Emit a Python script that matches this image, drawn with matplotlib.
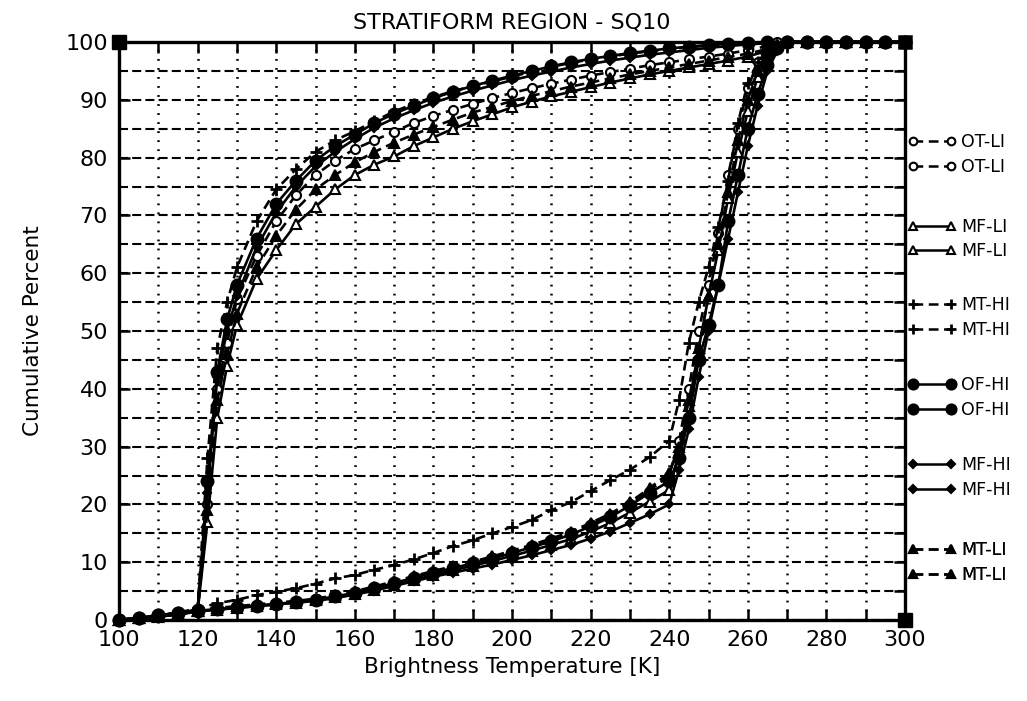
import matplotlib
matplotlib.use("Agg")
import matplotlib.pyplot as plt
from matplotlib.lines import Line2D
from matplotlib.ticker import MultipleLocator

plt.rcParams['font.family'] = ['DejaVu Sans']
plt.rcParams['lines.scale_dashes'] = False

# ---------------- data ----------------
# Temperature grid for the cold-rising curve group (A)
T_A = [100, 105, 110, 115, 120, 122.5, 125, 127.5, 130,
       135, 140, 145, 150, 155, 160, 165, 170, 175, 180,
       185, 190, 195, 200, 205, 210, 215, 220, 225, 230,
       235, 240, 245, 250, 255, 260, 265, 270,
       275, 280, 285, 290, 295, 300]

A_MT_HI = [0, 0.3, 0.6, 1.0, 2, 28, 47, 55, 61,
           69, 74.5, 78, 81, 83, 84.6, 86.3, 88, 89.3, 90.5,
           91.5, 92.4, 93.2, 94, 94.9, 95.7, 96.4, 97, 97.5, 98,
           98.4, 98.8, 99.1, 99.4, 99.6, 99.8, 99.9, 100,
           100, 100, 100, 100, 100, 100]
A_OF_HI = [0, 0.4, 0.8, 1.2, 1.8, 24, 43, 52, 58,
           66, 72, 76, 79.5, 82, 84, 86, 87.6, 89, 90.3,
           91.4, 92.4, 93.3, 94.2, 95, 95.8, 96.5, 97.1, 97.6, 98.1,
           98.5, 98.9, 99.2, 99.5, 99.7, 99.9, 100, 100,
           100, 100, 100, 100, 100, 100]
A_MF_HI = [0, 0.3, 0.7, 1.1, 1.8, 22, 42, 50, 56,
           64.5, 70.5, 75, 78.5, 81, 83.2, 85.2, 86.8, 88.2, 89.5,
           90.6, 91.6, 92.5, 93.4, 94.2, 94.9, 95.6, 96.2, 96.8, 97.3,
           97.8, 98.2, 98.6, 99, 99.3, 99.6, 99.8, 100,
           100, 100, 100, 100, 100, 100]
A_OT_LI = [0, 0.3, 0.6, 1.0, 1.6, 20, 40, 48, 55.5,
           63, 69, 73.5, 77, 79.5, 81.5, 83, 84.5, 86, 87.2,
           88.3, 89.3, 90.3, 91.2, 92, 92.8, 93.5, 94.2, 94.8, 95.4,
           96, 96.5, 97, 97.5, 98, 98.6, 99.3, 100,
           100, 100, 100, 100, 100, 100]
A_MT_LI = [0, 0.3, 0.6, 1.0, 1.5, 19, 38, 46, 53,
           61, 66.5, 71, 74.5, 77, 79.2, 81, 82.6, 84, 85.3,
           86.6, 87.8, 88.8, 89.8, 90.7, 91.5, 92.3, 93, 93.7, 94.4,
           95, 95.6, 96.2, 96.8, 97.4, 98, 98.8, 100,
           100, 100, 100, 100, 100, 100]
A_MF_LI = [0, 0.3, 0.6, 0.9, 1.5, 17, 35, 44, 51,
           59, 64, 68.5, 71.5, 74.5, 77, 78.8, 80.2, 82, 83.5,
           85, 86.3, 87.5, 88.7, 89.7, 90.6, 91.4, 92.2, 93, 93.7,
           94.4, 95, 95.6, 96.2, 96.8, 97.5, 98.5, 100,
           100, 100, 100, 100, 100, 100]

# Temperature grid for the warm-rising curve group (B)
T_B = [100, 105, 110, 115, 120, 125, 130, 135, 140, 145,
       150, 155, 160, 165, 170, 175, 180, 185, 190, 195,
       200, 205, 210, 215, 220, 225, 230, 235, 240,
       242.5, 245, 247.5, 250, 252.5, 255, 257.5, 260, 262.5, 265, 267.5, 270,
       275, 280, 285, 290, 295, 300]

B_MT_HI = [0, 0.4, 0.8, 1.3, 2, 2.9, 3.5, 4.3, 4.9, 5.5,
           6.3, 7.2, 7.8, 8.7, 9.5, 10.5, 11.6, 12.8, 13.8, 15,
           16.1, 17.3, 19, 20.4, 22.3, 24.2, 26, 28.2, 31,
           38, 48, 55, 61, 68, 76, 86, 93, 96.5, 98.5, 99.5, 100,
           100, 100, 100, 100, 100, 100]
B_OF_HI = [0, 0.4, 0.8, 1.2, 1.6, 1.9, 2.2, 2.5, 2.8, 3.1,
           3.5, 4.1, 4.7, 5.5, 6.4, 7.3, 8.2, 9.0, 9.8, 10.6,
           11.6, 12.6, 13.6, 14.8, 16.2, 17.8, 19.8, 22, 24,
           28, 35, 45, 51, 58, 69, 77, 85, 91, 96, 99, 100,
           100, 100, 100, 100, 100, 100]
B_MF_HI = [0, 0.3, 0.7, 1.1, 1.5, 1.8, 2.1, 2.4, 2.7, 3.0,
           3.3, 3.8, 4.4, 5.1, 5.9, 6.7, 7.5, 8.2, 8.9, 9.6,
           10.4, 11.2, 12.1, 13.0, 14.1, 15.3, 16.8, 18.3, 20,
           26, 33, 42, 50, 58, 66, 74, 82, 89, 95, 98.5, 100,
           100, 100, 100, 100, 100, 100]
B_OT_LI = [0, 0.4, 0.8, 1.2, 1.7, 2.0, 2.3, 2.6, 2.9, 3.2,
           3.6, 4.2, 4.8, 5.6, 6.5, 7.4, 8.3, 9.1, 9.9, 10.8,
           11.8, 12.8, 13.9, 15.1, 16.5, 18.1, 20.1, 22.4, 25,
           31, 40, 50, 58, 67, 77, 85, 92, 96.5, 99, 100, 100,
           100, 100, 100, 100, 100, 100]
B_MT_LI = [0, 0.4, 0.8, 1.2, 1.7, 2.1, 2.4, 2.7, 3.0, 3.3,
           3.7, 4.3, 5.0, 5.8, 6.7, 7.6, 8.5, 9.3, 10.1, 11.0,
           12.0, 13.0, 14.1, 15.3, 16.8, 18.4, 20.4, 22.8, 25.5,
           30, 38, 47, 56, 65, 74, 83, 90, 95, 98, 99.5, 100,
           100, 100, 100, 100, 100, 100]
B_MF_LI = [0, 0.3, 0.7, 1.1, 1.5, 1.8, 2.1, 2.4, 2.7, 3.0,
           3.4, 3.9, 4.5, 5.2, 6.0, 6.9, 7.8, 8.6, 9.4, 10.2,
           11.1, 12.0, 13.0, 14.0, 15.3, 16.8, 18.6, 20.5, 22.5,
           29, 37, 47, 56, 64, 73, 81, 88, 94, 97.5, 99.5, 100,
           100, 100, 100, 100, 100, 100]

labels = ["OT-LI", "MF-LI", "MT-HI", "OF-HI", "MF-HI", "MT-LI"]
x_ticks = [100, 120, 140, 160, 180, 200, 220, 240, 260, 280, 300]
y_ticks = [0, 10, 20, 30, 40, 50, 60, 70, 80, 90, 100]

# ---------------- styles ----------------
DASH = (0, (7, 4))
styles = {
    "OT-LI": dict(marker="o", mfc="white", ms=6.5, ls=DASH),
    "MF-LI": dict(marker="^", mfc="white", ms=7, ls="-"),
    "MT-HI": dict(marker="+", mfc="black", ms=9, ls=DASH, mew=2.0),
    "OF-HI": dict(marker="o", mfc="black", ms=8.5, ls="-"),
    "MF-HI": dict(marker="D", mfc="black", ms=4.5, ls="-"),
    "MT-LI": dict(marker="^", mfc="black", ms=7, ls=DASH),
}
series_A = {"OT-LI": A_OT_LI, "MF-LI": A_MF_LI, "MT-HI": A_MT_HI,
            "OF-HI": A_OF_HI, "MF-HI": A_MF_HI, "MT-LI": A_MT_LI}
series_B = {"OT-LI": B_OT_LI, "MF-LI": B_MF_LI, "MT-HI": B_MT_HI,
            "OF-HI": B_OF_HI, "MF-HI": B_MF_HI, "MT-LI": B_MT_LI}

fig = plt.figure(figsize=(10.27, 7.01), dpi=100)
ax = fig.add_axes([0.1159, 0.1155, 0.7653, 0.8245])

for lab in labels:
    st = styles[lab]
    for T, s in ((T_A, series_A[lab]), (T_B, series_B[lab])):
        ax.plot(T, s, color="black", lw=1.9, ls=st["ls"], marker=st["marker"],
                ms=st["ms"], mfc=st["mfc"], mec="black", mew=st.get("mew", 1.5),
                clip_on=False, zorder=3)

ax.set_xlim(100, 300)
ax.set_ylim(0, 100)
ax.set_xticks(x_ticks)
ax.set_yticks(y_ticks)
ax.xaxis.set_minor_locator(MultipleLocator(10))
ax.yaxis.set_minor_locator(MultipleLocator(5))

ax.grid(which="both", axis="x", color="black", lw=1.8, ls=(0, (1.3, 5.2)))
ax.grid(which="both", axis="y", color="black", lw=1.5, ls=(0, (6.5, 3)))
ax.set_axisbelow(True)

for sp in ax.spines.values():
    sp.set_linewidth(2.4)
ax.tick_params(which="major", direction="in", length=8, width=1.8,
               top=True, right=True, labelsize=16)
ax.tick_params(axis="x", which="major", pad=7)
ax.tick_params(axis="y", which="major", pad=8)
ax.tick_params(which="minor", direction="in", length=8, width=1.8,
               top=True, right=True, left=False)

ax.set_xlabel("Brightness Temperature [K]", fontsize=15.5, labelpad=5)
ax.set_ylabel("Cumulative Percent", fontsize=15.5, labelpad=16)
ax.set_title("STRATIFORM REGION - SQ10", fontsize=16, pad=10)

# corner frame markers
ax.plot([0], [1], marker="s", ms=10, color="black", transform=ax.transAxes, clip_on=False)
ax.plot([1], [1], marker="s", ms=9, mfc="white", mec="black", mew=1.8,
        transform=ax.transAxes, clip_on=False)
ax.plot([1], [0], marker="s", ms=10, color="black", transform=ax.transAxes, clip_on=False)

# legend: each category listed twice, in pairs
pair_y = [0.805, 0.659, 0.523, 0.385, 0.2465, 0.0995]
for lab, yy in zip(labels, pair_y):
    st = styles[lab]
    h = Line2D([], [], color="black", lw=1.8, ls=st["ls"], marker=st["marker"],
               ms=st["ms"] * 0.85, mfc=st["mfc"], mec="black", mew=st.get("mew", 1.5))
    leg = ax.legend([h, h], [lab, lab], loc="center left",
                    bbox_to_anchor=(1.003, yy), frameon=False, fontsize=12.5,
                    handlelength=2.8, handletextpad=0.3, labelspacing=0.38,
                    borderpad=0, borderaxespad=0, numpoints=2)
    ax.add_artist(leg)

fig.savefig("out.png", dpi=100)
